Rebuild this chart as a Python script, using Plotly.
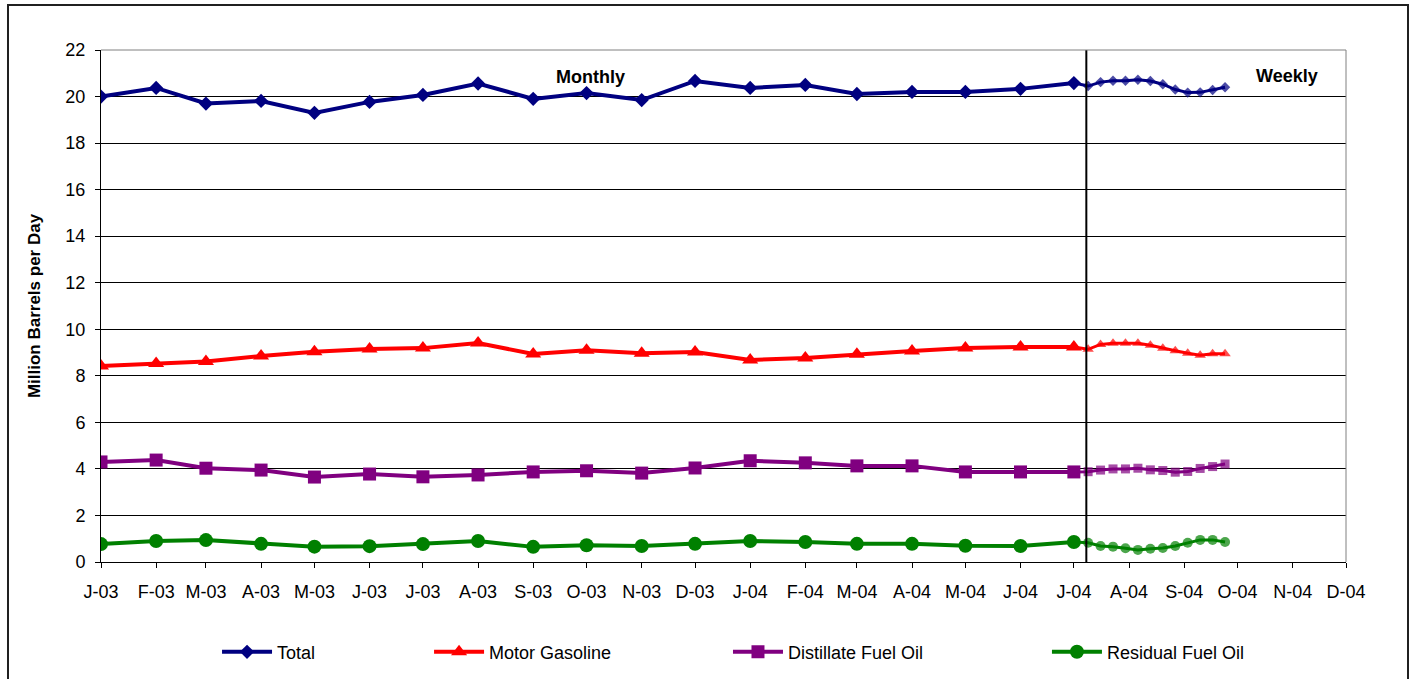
import plotly.graph_objects as go

# ---------------- data ----------------
monthly_dates = [
    "2003-01-01", "2003-02-01", "2003-03-01", "2003-04-01", "2003-05-01", "2003-06-01",
    "2003-07-01", "2003-08-01", "2003-09-01", "2003-10-01", "2003-11-01", "2003-12-01",
    "2004-01-01", "2004-02-01", "2004-03-01", "2004-04-01", "2004-05-01", "2004-06-01",
    "2004-07-01",
]
weekly_dates = [
    "2004-07-09", "2004-07-16", "2004-07-23", "2004-07-30", "2004-08-06", "2004-08-13",
    "2004-08-20", "2004-08-27", "2004-09-03", "2004-09-10", "2004-09-17", "2004-09-24",
]

total_monthly = [20.0, 20.37, 19.7, 19.81, 19.3, 19.77, 20.07, 20.56, 19.9, 20.15, 19.85, 20.67,
                 20.37, 20.5, 20.11, 20.2, 20.2, 20.33, 20.58]
total_weekly = [20.45, 20.62, 20.68, 20.68, 20.72, 20.67, 20.53, 20.3, 20.17, 20.18, 20.28, 20.4]

gasoline_monthly = [8.42, 8.53, 8.62, 8.85, 9.03, 9.15, 9.19, 9.41, 8.94, 9.1, 8.97, 9.02,
                    8.68, 8.77, 8.93, 9.07, 9.19, 9.24, 9.24]
gasoline_weekly = [9.14, 9.35, 9.4, 9.4, 9.4, 9.31, 9.18, 9.08, 8.97, 8.88, 8.95, 8.95]

distillate_monthly = [4.3, 4.38, 4.03, 3.95, 3.65, 3.78, 3.66, 3.74, 3.87, 3.92, 3.82, 4.04,
                      4.35, 4.26, 4.13, 4.13, 3.87, 3.87, 3.87]
distillate_weekly = [3.88, 3.95, 4.0, 4.0, 4.03, 3.96, 3.93, 3.86, 3.89, 4.02, 4.1, 4.21]

residual_monthly = [0.77, 0.9, 0.94, 0.78, 0.66, 0.68, 0.77, 0.9, 0.65, 0.72, 0.69, 0.78,
                    0.9, 0.86, 0.78, 0.78, 0.7, 0.69, 0.86]
residual_weekly = [0.83, 0.69, 0.66, 0.59, 0.52, 0.57, 0.6, 0.69, 0.83, 0.95, 0.95, 0.86]

tick_dates = [
    "2003-01-01", "2003-02-01", "2003-03-01", "2003-04-01", "2003-05-01", "2003-06-01",
    "2003-07-01", "2003-08-01", "2003-09-01", "2003-10-01", "2003-11-01", "2003-12-01",
    "2004-01-01", "2004-02-01", "2004-03-01", "2004-04-01", "2004-05-01", "2004-06-01",
    "2004-07-01", "2004-08-01", "2004-09-01", "2004-10-01", "2004-11-01", "2004-12-01",
]
tick_labels = ["J-03", "F-03", "M-03", "A-03", "M-03", "J-03", "J-03", "A-03", "S-03", "O-03",
               "N-03", "D-03", "J-04", "F-04", "M-04", "A-04", "M-04", "J-04", "J-04", "A-04",
               "S-04", "O-04", "N-04", "D-04"]

series_names = ["Total", "Motor Gasoline", "Distillate Fuel Oil", "Residual Fuel Oil"]
series_colors = ["#000080", "#FF0000", "#800080", "#008000"]
series_symbols = ["diamond", "triangle-up", "square", "circle"]
monthly_values = [total_monthly, gasoline_monthly, distillate_monthly, residual_monthly]
weekly_values = [total_weekly, gasoline_weekly, distillate_weekly, residual_weekly]

weekly_start = "2004-07-08"

# ---------------- styling ----------------
FONT = "Liberation Sans, Arial, sans-serif"
FS = 18
monthly_sizes = [11, 14, 13, 14]
weekly_sizes = [8, 10, 9, 10]
legend_keys = ["legend", "legend2", "legend3", "legend4"]
legend_x = [0.0932, 0.2635, 0.5036, 0.7598]

fig = go.Figure()

for i in range(4):
    # weekly segment (connected to the last monthly point)
    fig.add_trace(go.Scatter(
        x=[monthly_dates[-1]] + weekly_dates,
        y=[monthly_values[i][-1]] + weekly_values[i],
        mode="lines+markers",
        line=dict(color=series_colors[i], width=3),
        marker=dict(symbol=series_symbols[i], color=series_colors[i],
                    size=[0] + [weekly_sizes[i]] * len(weekly_dates), line=dict(width=0)),
        showlegend=False, hoverinfo="skip",
    ))
for i in range(4):
    fig.add_trace(go.Scatter(
        x=monthly_dates, y=monthly_values[i],
        mode="lines+markers", name=series_names[i],
        line=dict(color=series_colors[i], width=4),
        marker=dict(symbol=series_symbols[i], color=series_colors[i],
                    size=monthly_sizes[i], line=dict(width=0)),
        legend=legend_keys[i],
    ))

legend_common = dict(orientation="h", yanchor="middle", y=-0.176, xanchor="left",
                     font=dict(family=FONT, size=FS, color="black"),
                     bgcolor="rgba(0,0,0,0)", itemwidth=50, tracegroupgap=0)

fig.update_layout(
    width=1413, height=679,
    margin=dict(l=101, r=67, t=50, b=117, autoexpand=False),
    paper_bgcolor="white", plot_bgcolor="white",
    font=dict(family=FONT, size=FS, color="black"),
    xaxis=dict(
        type="date", range=[tick_dates[0], tick_dates[-1]],
        tickmode="array", tickvals=tick_dates, ticktext=tick_labels,
        showgrid=False, showline=True, linecolor="black", linewidth=1,
        ticks="outside", ticklen=5, tickcolor="black", ticklabelstandoff=8,
        tickfont=dict(family=FONT, size=FS, color="black"), zeroline=False,
        automargin=False,
    ),
    yaxis=dict(
        range=[0, 22], dtick=2, tick0=0,
        showgrid=True, gridcolor="black", gridwidth=1,
        showline=True, linecolor="black", linewidth=1,
        ticks="outside", ticklen=5, tickcolor="black", ticklabelstandoff=6,
        tickfont=dict(family=FONT, size=FS, color="black"), zeroline=False,
        automargin=False,
        title=dict(text="<b>Million Barrels per Day</b>", standoff=20,
                   font=dict(family=FONT, size=17, color="black")),
    ),
    legend=dict(x=legend_x[0], **legend_common),
    legend2=dict(x=legend_x[1], **legend_common),
    legend3=dict(x=legend_x[2], **legend_common),
    legend4=dict(x=legend_x[3], **legend_common),
    shapes=[
        dict(type="line", xref="x", yref="paper", x0=weekly_start, x1=weekly_start,
             y0=0, y1=1, line=dict(color="black", width=2), layer="above"),
        dict(type="line", xref="paper", yref="paper", x0=0, x1=1, y0=1, y1=1,
             line=dict(color="#808080", width=1), layer="above"),
        dict(type="line", xref="paper", yref="paper", x0=1, x1=1, y0=0, y1=1,
             line=dict(color="#808080", width=1), layer="above"),
        dict(type="rect", xref="paper", yref="paper", x0=-0.0747, x1=1.0498,
             y0=-0.35, y1=1.0879, line=dict(color="#202020", width=2)),
    ],
    annotations=[
        dict(text="<b>Monthly</b>", xref="paper", yref="paper", x=0.393, y=0.947,
             xanchor="center", yanchor="middle",
             showarrow=False, font=dict(family=FONT, size=FS, color="black")),
        dict(text="<b>Weekly</b>", xref="paper", yref="paper", x=0.9526, y=0.949,
             xanchor="center", yanchor="middle",
             showarrow=False, font=dict(family=FONT, size=FS, color="black")),
    ],
)

fig.write_html("out.html", config={"displayModeBar": False},
               post_script="document.body.style.margin='0px';")
